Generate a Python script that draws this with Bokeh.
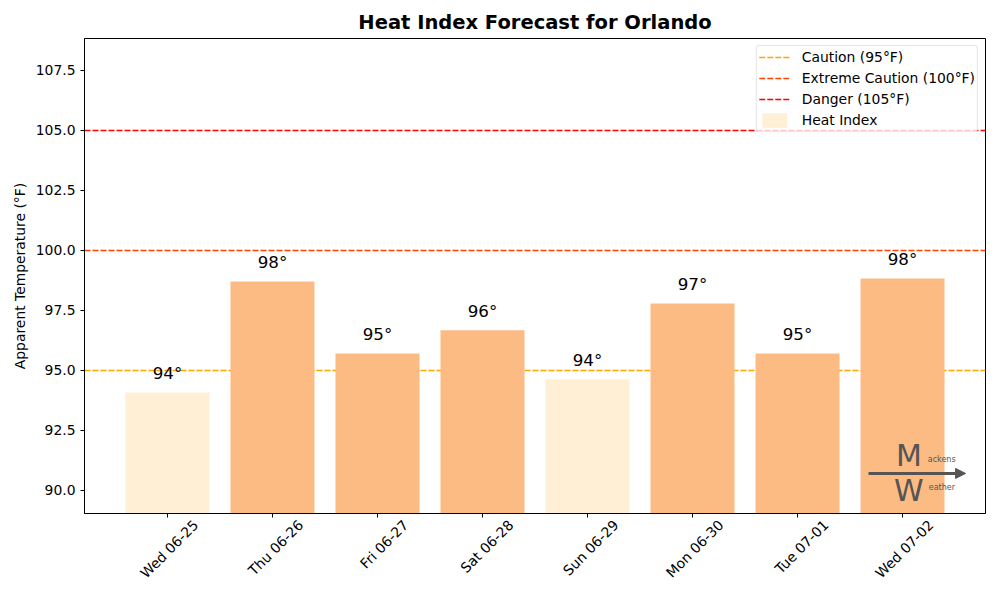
from bokeh.plotting import figure
from bokeh.models import (Range1d, SingleIntervalTicker, NumeralTickFormatter,
                          ColumnDataSource, Label, Arrow, NormalHead, LinearAxis, FixedTicker)
from bokeh.core.properties import value
from bokeh.embed import file_html
from bokeh.resources import INLINE
import math

days = ["Wed 06-25", "Thu 06-26", "Fri 06-27", "Sat 06-28",
        "Sun 06-29", "Mon 06-30", "Tue 07-01", "Wed 07-02"]
heat_index = [94.08, 98.71, 95.71, 96.67, 94.63, 97.79, 95.71, 98.83]
thresholds = [95, 100, 105]
threshold_names = ["Caution (95°F)", "Extreme Caution (100°F)", "Danger (105°F)"]
threshold_colors = ["#FFA500", "#FF4500", "#FF0000"]

FONT = "DejaVu Sans"

n = len(days)
pos = list(range(n))
bar_colors = ["#FFEFD5" if v < 95 else "#FDBB84" for v in heat_index]
labels = [f"{int(v)}°" for v in heat_index]

src = ColumnDataSource(dict(x=pos, val=heat_index, color=bar_colors,
                            lab=labels, laby=[v + 0.4 for v in heat_index]))

PAD = 0.79
p = figure(width=1000, height=600, output_backend="svg", toolbar_location=None,
           x_range=Range1d(-PAD, n - 1 + PAD),
           y_range=Range1d(89.04, 108.83),
           min_border_left=84, min_border_right=15, min_border_top=38, min_border_bottom=87)

p.title.text = "Heat Index Forecast for Orlando"
p.title.align = "center"
p.title.text_font = FONT
p.title.text_font_size = "19.5px"
p.title.text_font_style = "bold"
p.title.text_color = "black"

p.xgrid.visible = False
p.ygrid.visible = False
p.outline_line_color = "black"
p.outline_line_alpha = 1.0

for ax in (p.xaxis[0], p.yaxis[0]):
    ax.axis_line_color = "black"
    ax.major_tick_line_color = "black"
    ax.major_tick_out = 4
    ax.major_tick_in = 0
    ax.minor_tick_line_color = None
    ax.major_label_text_font = FONT
    ax.major_label_text_font_size = "13.9px"
    ax.major_label_text_color = "black"
    ax.axis_label_text_font = FONT
    ax.axis_label_text_font_size = "13.9px"
    ax.axis_label_text_font_style = "normal"
    ax.axis_label_text_color = "black"

p.yaxis.ticker = SingleIntervalTicker(interval=2.5)
p.yaxis.formatter = NumeralTickFormatter(format="0.0")
p.yaxis.axis_label = "Apparent Temperature (°F)"

# main x axis: ticks only at bar centres (its labels are blank)
p.xaxis[0].ticker = FixedTicker(ticks=pos)
p.xaxis[0].major_label_overrides = {i: "" for i in pos}
p.xaxis[0].major_label_text_font_size = "1px"
p.xaxis[0].major_label_standoff = 0

# label axis: rotated day labels, centred under each tick
SHIFT = 0.27
p.extra_x_ranges = {"lab": Range1d(-PAD, n - 1 + PAD)}
lab_ticks = [i + SHIFT for i in pos]
lab_axis = LinearAxis(x_range_name="lab", ticker=FixedTicker(ticks=lab_ticks),
                      major_label_overrides={t: d for t, d in zip(lab_ticks, days)},
                      major_label_orientation=math.pi / 4,
                      axis_line_color=None, major_tick_line_color=None,
                      minor_tick_line_color=None, major_tick_out=0, major_tick_in=0,
                      major_label_standoff=5,
                      major_label_text_font=FONT, major_label_text_font_size="13.9px",
                      major_label_text_color="black")
p.add_layout(lab_axis, "below")

# threshold lines
for t, nm, c in zip(thresholds, threshold_names, threshold_colors):
    p.hspan(y=[t], line_color=c, line_width=1.6, line_dash="6 2", legend_label=nm)

p.vbar(x="x", top="val", bottom=0, width=0.8, source=src, fill_color="color",
       line_color=None, legend_label="Heat Index")

p.text(x="x", y="laby", text="lab", source=src, text_align="center",
       text_baseline="bottom", text_font=value(FONT), text_font_size="16.7px",
       text_color="black")

lg = p.legend[0]
lg.location = "top_right"
lg.margin = 7
lg.padding = 2
lg.spacing = 3
lg.label_height = 18
lg.glyph_height = 18
lg.glyph_width = 31
lg.label_standoff = 12
lg.label_text_font = FONT
lg.label_text_font_size = "13.9px"
lg.label_text_color = "black"
lg.border_line_color = "#cccccc"
lg.background_fill_alpha = 0.8
lg.border_radius = 3

# watermark logo
logo = "#555555"
p.add_layout(Arrow(x_start=6.676, y_start=90.71, x_end=7.6, y_end=90.71,
                   line_color=logo, line_width=3,
                   end=NormalHead(size=10, fill_color=logo, line_color=logo)))
p.add_layout(Label(x=7.06, y=90.71, text="M", text_font=FONT, text_font_size="30px",
                   text_color=logo, text_align="center", text_baseline="bottom"))
p.add_layout(Label(x=7.06, y=90.71, text="W", text_font=FONT, text_font_size="30px",
                   text_color=logo, text_align="center", text_baseline="top"))
p.add_layout(Label(x=7.24, y=91.1, text="ackens", text_font=FONT, text_font_size="8px",
                   text_color=logo, text_align="left", text_baseline="bottom"))
p.add_layout(Label(x=7.25, y=90.3, text="eather", text_font=FONT, text_font_size="8px",
                   text_color=logo, text_align="left", text_baseline="top"))

open("out.html", "w").write(file_html(p, INLINE))
